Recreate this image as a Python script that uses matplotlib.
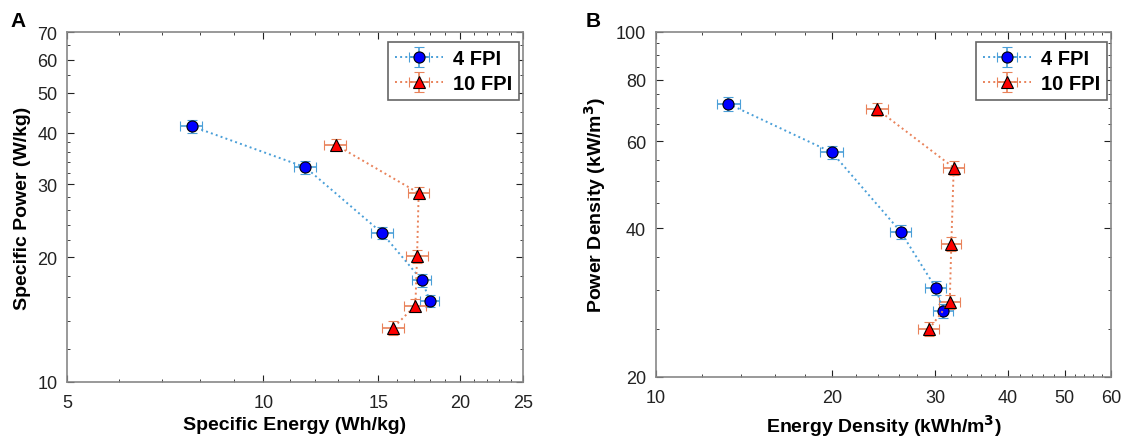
import matplotlib
matplotlib.use("Agg")
import matplotlib.pyplot as plt
from matplotlib.ticker import FixedLocator, NullFormatter

plt.rcParams['font.family'] = ['Liberation Sans', 'DejaVu Sans']

series = ["4 FPI", "10 FPI"]

# Panel A: specific energy (Wh/kg) vs specific power (W/kg)
a_x_4 = [7.76, 11.6, 15.2, 17.5, 18.0]
a_y_4 = [41.5, 33.0, 22.9, 17.6, 15.7]
a_xerr_4 = [0.3, 0.45, 0.6, 0.6, 0.6]
a_yerr_4 = [1.5, 1.2, 0.8, 0.6, 0.55]
a_x_10 = [12.9, 17.3, 17.2, 17.1, 15.8]
a_y_10 = [37.4, 28.6, 20.1, 15.3, 13.5]
a_xerr_10 = [0.5, 0.65, 0.65, 0.65, 0.6]
a_yerr_10 = [1.3, 1.0, 0.7, 0.55, 0.5]

# Panel B: energy density (kWh/m3) vs power density (kW/m3)
b_x_4 = [13.3, 20.0, 26.2, 30.1, 31.0]
b_y_4 = [71.5, 57.0, 39.4, 30.3, 27.2]
b_xerr_4 = [0.6, 0.9, 1.1, 1.2, 1.2]
b_yerr_4 = [2.3, 1.8, 1.3, 1.0, 0.9]
b_x_10 = [23.9, 32.3, 32.0, 31.8, 29.3]
b_y_10 = [69.7, 53.1, 37.2, 28.4, 25.0]
b_xerr_10 = [1.0, 1.3, 1.3, 1.3, 1.2]
b_yerr_10 = [2.2, 1.7, 1.2, 0.9, 0.8]

a_xticks = [5, 10, 15, 20, 25]
a_yticks = [10, 20, 30, 40, 50, 60, 70]
b_xticks = [10, 20, 30, 40, 50, 60]
b_yticks = [20, 40, 60, 80, 100]

line_blue = '#4a9fd8'
line_red = '#e9825a'

fig = plt.figure(figsize=(11.24, 4.39), dpi=100)
axA = fig.add_axes([0.0596, 0.1276, 0.4057, 0.797])
axB = fig.add_axes([0.5836, 0.139, 0.4048, 0.786])


def draw(ax, x4, y4, xe4, ye4, x10, y10, xe10, ye10):
    ax.errorbar(x4, y4, xerr=xe4, yerr=ye4, fmt='o', ls=':', lw=1.4,
                color=line_blue, mfc='#0000ff', mec='black', mew=0.8,
                ms=8, ecolor=line_blue, elinewidth=1.2, capsize=3.5,
                label=series[0])
    ax.errorbar(x10, y10, xerr=xe10, yerr=ye10, fmt='^', ls=':', lw=1.4,
                color=line_red, mfc='#ff0000', mec='black', mew=0.8,
                ms=8, ecolor=line_red, elinewidth=1.2, capsize=3.5,
                label=series[1])
    ax.set_xscale('log')
    ax.set_yscale('log')
    ax.tick_params(which='both', direction='in', top=True, right=True,
                   labelsize=13, colors='#222222')
    ax.tick_params(which='major', length=5)
    ax.tick_params(which='minor', length=2.5)
    ax.tick_params(axis='x', which='major', pad=9)
    ax.tick_params(axis='y', which='major', pad=7)
    for s in ax.spines.values():
        s.set_color('#888888')
        s.set_linewidth(1.2)
    leg = ax.legend(loc='upper right', bbox_to_anchor=(0.992, 0.972),
                    borderaxespad=0, prop={'weight': 'bold', 'size': 14.5},
                    fancybox=False, edgecolor='#666666', framealpha=1,
                    handlelength=2.4, handletextpad=0.5, borderpad=0.35,
                    labelspacing=0.3)
    leg.get_frame().set_linewidth(1.2)


draw(axA, a_x_4, a_y_4, a_xerr_4, a_yerr_4, a_x_10, a_y_10, a_xerr_10, a_yerr_10)
axA.set_xlim(5, 25)
axA.set_ylim(10, 70)
axA.xaxis.set_major_locator(FixedLocator(a_xticks))
axA.xaxis.set_minor_locator(FixedLocator([6, 7, 8, 9, 11, 12, 13, 14, 16, 17, 18, 19, 21, 22, 23, 24]))
axA.yaxis.set_major_locator(FixedLocator(a_yticks))
axA.yaxis.set_minor_locator(FixedLocator([12, 14, 16, 18, 22, 24, 26, 28, 32, 34, 36, 38, 45, 55, 65]))
axA.xaxis.set_minor_formatter(NullFormatter())
axA.yaxis.set_minor_formatter(NullFormatter())
axA.set_xticklabels([str(t) for t in a_xticks])
axA.set_yticklabels([str(t) for t in a_yticks])
axA.set_xlabel('Specific Energy (Wh/kg)', fontsize=14, fontweight='bold', labelpad=3)
axA.set_ylabel('Specific Power (W/kg)', fontsize=14, fontweight='bold', labelpad=4)

draw(axB, b_x_4, b_y_4, b_xerr_4, b_yerr_4, b_x_10, b_y_10, b_xerr_10, b_yerr_10)
axB.set_xlim(10, 60)
axB.set_ylim(20, 100)
axB.xaxis.set_major_locator(FixedLocator(b_xticks))
axB.xaxis.set_minor_locator(FixedLocator([12, 14, 16, 18, 22, 24, 26, 28, 32, 34, 36, 38, 42, 44, 46, 48, 52, 54, 56, 58]))
axB.yaxis.set_major_locator(FixedLocator(b_yticks))
axB.yaxis.set_minor_locator(FixedLocator([25, 30, 35, 45, 50, 55, 65, 70, 75, 85, 90, 95]))
axB.xaxis.set_minor_formatter(NullFormatter())
axB.yaxis.set_minor_formatter(NullFormatter())
axB.set_xticklabels([str(t) for t in b_xticks])
axB.set_yticklabels([str(t) for t in b_yticks])
axB.set_xlabel('Energy Density (kWh/m$^\\mathbf{3}$)', fontsize=14, fontweight='bold', labelpad=4)
axB.set_ylabel('Power Density (kW/m$^\\mathbf{3}$)', fontsize=14, fontweight='bold', labelpad=6)

fig.text(0.009, 0.95, 'A', fontsize=15, fontweight='bold', va='center')
fig.text(0.521, 0.95, 'B', fontsize=15, fontweight='bold', va='center')

fig.savefig('out.png', dpi=100)
